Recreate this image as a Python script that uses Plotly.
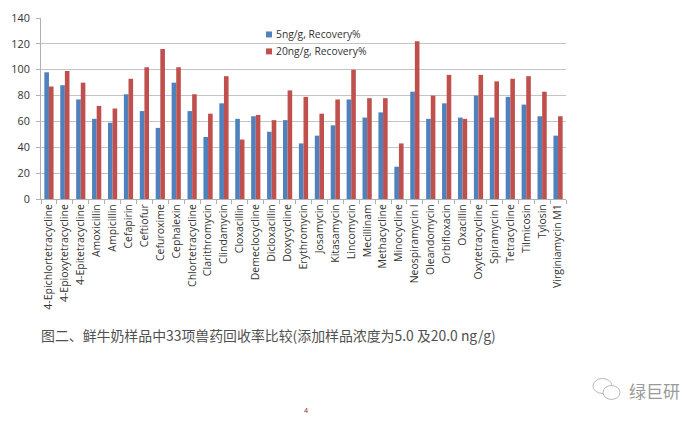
import plotly.graph_objects as go

drugs = ["4-Epichlortetracycline","4-Epioxytetracycline","4-Epitetracycline","Amoxicillin","Ampicillin","Cefapirin","Ceftiofur","Cefuroxime","Cephalexin","Chlortetracycline","Clarithromycin","Clindamycin","Cloxacillin","Demeclocycline","Dicloxacillin","Doxycycline","Erythromycin","Josamycin","Kitasamycin","Lincomycin","Mecillinam","Methacycline","Minocycline","Neospiramycin I","Oleandomycin","Orbifloxacin","Oxacillin","Oxytetracycline","Spiramycin I","Tetracycline","Tilmicosin","Tylosin","Virginiamycin M1"]
recovery_5 = [98,88,77,62,59,81,68,55,90,68,48,74,62,64,52,61,43,49,57,77,63,67,25,83,62,74,63,80,63,79,73,64,49]
recovery_20 = [87,99,90,72,70,93,102,116,102,81,66,95,46,65,61,84,79,66,77,100,78,78,43,122,80,96,62,96,91,93,95,83,64]
series_names = ["5ng/g, Recovery%", "20ng/g, Recovery%"]
series_colors = ["#4f81bd", "#c0504d"]

OFF = 8  # the page's body margin
W, H = 700 - OFF, 421 - OFF
L, R, T, B = 41 - OFF, 566 - OFF, 17.5 - OFF, 199 - OFF
font = "Open Sans, Noto Sans CJK SC, sans-serif"

def px(x): return (x - OFF - L) / (R - L)
def py(y): return 1 - (y - OFF - T) / (B - T)

fig = go.Figure()
for name, vals, col in zip(series_names, [recovery_5, recovery_20], series_colors):
    fig.add_bar(name=name, x=drugs, y=vals, marker=dict(color=col, line_width=0), showlegend=False)

def note(text, x, y, size, color, anchor="left", family=font):
    return dict(text=text, x=px(x), y=py(y), xref="paper", yref="paper", xanchor=anchor, yanchor="middle",
                showarrow=False, font=dict(size=size, color=color, family=family))

cjk = "Noto Sans CJK SC, sans-serif"
annotations = [
    note("图二、鲜牛奶样品中33项兽药回收率比较(添加样品浓度为5.0 及20.0 ng/g)", 39, 335, 13.9, "#505050", family=cjk),
    note("4", 306, 411, 7, "#8b2020", anchor="center"),
    note("绿巨研", 627, 391, 17, "#9a9a9a", family=cjk),
    note(series_names[0], 274, 34, 10.3, "#333333"),
    note(series_names[1], 274, 51, 10.3, "#333333"),
]
def rect(x0, y0, x1, y1, color):
    return dict(type="rect", xref="paper", yref="paper", x0=px(x0), x1=px(x1), y0=py(y0), y1=py(y1),
                fillcolor=color, line_width=0, layer="above")
def circle(x0, y0, x1, y1):
    return dict(type="circle", xref="paper", yref="paper", x0=px(x0), x1=px(x1), y0=py(y0), y1=py(y1),
                fillcolor="rgba(255,255,255,0.9)", line=dict(color="#b8b8b8", width=1), layer="above")
shapes = [
    rect(266, 31, 272, 37, series_colors[0]),
    rect(266, 48, 272, 54, series_colors[1]),
    circle(593, 379, 612, 394),
    circle(603, 386, 620, 400),
]

fig.update_layout(
    width=W, height=H, autosize=False,
    paper_bgcolor="white", plot_bgcolor="white",
    margin=dict(l=L, r=W - R, t=T, b=H - B, autoexpand=False),
    barmode="group", bargap=0.42, bargroupgap=0, showlegend=False,
    font=dict(family=font, color="#333333"),
    annotations=annotations, shapes=shapes,
    xaxis=dict(type="category", tickangle=-90, tickson="boundaries", ticks="outside", ticklen=4,
               tickcolor="#b0b0b0", linecolor="#b0b0b0", linewidth=1, showline=True, showgrid=False,
               tickfont=dict(size=10.5, color="#333333"), automargin=False, tickmode="linear", dtick=1),
    yaxis=dict(range=[0, 140], dtick=20, ticks="outside", ticklen=4, tickcolor="#b0b0b0",
               linecolor="#b0b0b0", linewidth=1, showline=True, showgrid=True, gridcolor="#c4c4c4",
               gridwidth=1, zeroline=False, tickfont=dict(size=10.8, color="#333333"), automargin=False,
               ticklabelstandoff=4),
)
fig.write_html("out.html")
